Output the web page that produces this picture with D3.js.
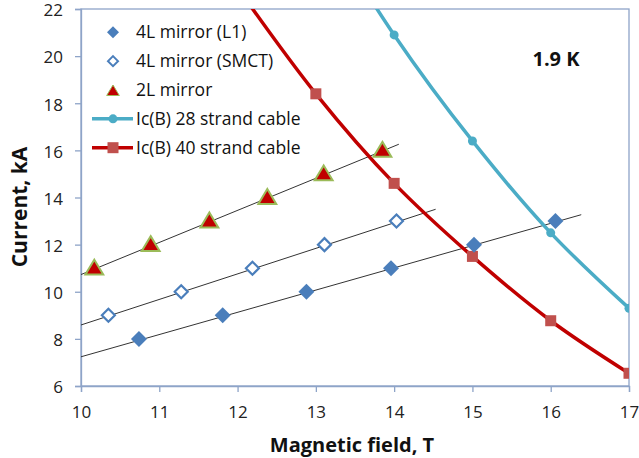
<!DOCTYPE html>
<html>
<head>
<meta charset="utf-8">
<script src="https://cdn.jsdelivr.net/npm/d3@7"></script>
<style>
  html, body { margin: 0; padding: 0; background: #fff; }
  svg { display: block; font-family: "Open Sans", "Noto Sans", sans-serif; }
</style>
</head>
<body>
<svg id="chart" width="639" height="458"></svg>
<script>
// ---- data ----
const xTicks = [10, 11, 12, 13, 14, 15, 16, 17];
const yTicks = [6, 8, 10, 12, 14, 16, 18, 20, 22];

const l1B = [10.74, 11.81, 12.88, 13.96, 15.02, 16.06];
const l1I = [8, 9, 10, 11, 12, 13];
const l1Fit = [[10, 7.24], [16.39, 13.27]];

const smctB = [10.35, 11.28, 12.19, 13.11, 14.03];
const smctI = [9, 10, 11, 12, 13];
const smctFit = [[10, 8.59], [14.53, 13.50]];

const twoLB = [10.17, 10.89, 11.64, 12.38, 13.10, 13.85];
const twoLI = [11, 12, 13, 14, 15, 16];
const twoLFit = [[10, 10.73], [14.06, 16.26]];

const c28B = [13, 14, 15, 16, 17];
const c28I = [26.2, 20.9, 16.4, 12.5, 9.3];

const c40B = [12, 13, 14, 15, 16, 17];
const c40I = [22.9, 18.4, 14.6, 11.5, 8.77, 6.54];

const legendLabels = ["4L mirror (L1)", "4L mirror (SMCT)", "2L mirror", "Ic(B) 28 strand cable", "Ic(B) 40 strand cable"];

// ---- layout ----
const svg = d3.select("#chart");
const L = 81, R = 629, T = 9, B = 386;
const x = d3.scaleLinear().domain([10, 17]).range([L, R]);
const y = d3.scaleLinear().domain([6, 22]).range([B, T]);

const axisColor = "#8ea4c8";
const blue = "#4a7ebb";
const cyan = "#4bacc6";
const darkRed = "#c00000";
const sqRed = "#c0504d";
const triStroke = "#9bbb59";

svg.append("defs").append("clipPath").attr("id", "clip")
  .append("rect").attr("x", L).attr("y", T).attr("width", R - L).attr("height", B - T);

// frame
svg.append("rect").attr("x", L).attr("y", T).attr("width", R - L).attr("height", B - T)
  .attr("fill", "none").attr("stroke", axisColor).attr("stroke-width", 1.3);

// axes
const xAxis = svg.append("g").attr("transform", `translate(0,${B})`)
  .call(d3.axisBottom(x).tickValues(xTicks).tickSize(6).tickPadding(14).tickFormat(d3.format("d")));
const yAxis = svg.append("g").attr("transform", `translate(${L},0)`)
  .call(d3.axisLeft(y).tickValues(yTicks).tickSize(6).tickPadding(12).tickFormat(d3.format("d")));
[xAxis, yAxis].forEach(g => {
  g.select(".domain").attr("stroke", axisColor).attr("stroke-width", 1.3);
  g.selectAll(".tick line").attr("stroke", axisColor).attr("stroke-width", 1.3);
  g.selectAll(".tick text").attr("fill", "#222").style("font-size", "17px")
    .style("font-family", "'Open Sans', sans-serif");
});
yAxis.selectAll(".tick text").attr("dy", "0.4em");

// axis titles
svg.append("text").attr("x", 352).attr("y", 452).attr("text-anchor", "middle")
  .style("font-size", "20px").style("font-weight", "bold").attr("fill", "#111")
  .text("Magnetic field, T");
svg.append("text").attr("transform", "translate(27,207) rotate(-90)").attr("text-anchor", "middle")
  .style("font-size", "21px").style("font-weight", "bold").attr("fill", "#111")
  .text("Current, kA");

const plot = svg.append("g").attr("clip-path", "url(#clip)");

// trend lines
const fitLine = d3.line().x(d => x(d[0])).y(d => y(d[1]));
[l1Fit, smctFit, twoLFit].forEach(f => {
  plot.append("path").attr("d", fitLine(f)).attr("fill", "none")
    .attr("stroke", "#333").attr("stroke-width", 1);
});

// curves
const curve = d3.line().x(d => x(d[0])).y(d => y(d[1])).curve(d3.curveCatmullRom.alpha(0.5));
const c28 = c28B.map((b, i) => [b, c28I[i]]);
const c40 = c40B.map((b, i) => [b, c40I[i]]);
plot.append("path").attr("d", curve(c40)).attr("fill", "none").attr("stroke", darkRed).attr("stroke-width", 3.5);
plot.append("path").attr("d", curve(c28)).attr("fill", "none").attr("stroke", cyan).attr("stroke-width", 3.5);

// markers
const diamond = s => `M0,${-s}L${s},0L0,${s}L${-s},0Z`;
const triangle = s => `M0,${-s}L${s * 1.05},${s * 0.75}L${-s * 1.05},${s * 0.75}Z`;

plot.selectAll(".c40m").data(c40).enter().append("rect")
  .attr("x", d => x(d[0]) - 5.5).attr("y", d => y(d[1]) - 5.5)
  .attr("width", 11).attr("height", 11).attr("fill", sqRed);
plot.selectAll(".c28m").data(c28).enter().append("circle")
  .attr("cx", d => x(d[0])).attr("cy", d => y(d[1])).attr("r", 4.5).attr("fill", cyan);

plot.selectAll(".l1").data(l1B).enter().append("path")
  .attr("transform", (d, i) => `translate(${x(d)},${y(l1I[i])})`)
  .attr("d", diamond(8)).attr("fill", blue);
plot.selectAll(".smct").data(smctB).enter().append("path")
  .attr("transform", (d, i) => `translate(${x(d)},${y(smctI[i])})`)
  .attr("d", diamond(6.5)).attr("fill", "#fff").attr("stroke", blue).attr("stroke-width", 2.2);
plot.selectAll(".tl").data(twoLB).enter().append("path")
  .attr("transform", (d, i) => `translate(${x(d)},${y(twoLI[i])})`)
  .attr("d", triangle(8.5)).attr("fill", darkRed).attr("stroke", triStroke).attr("stroke-width", 2);

// 1.9 K label
svg.append("text").attr("x", 556).attr("y", 65.5).attr("text-anchor", "middle")
  .style("font-size", "20px").style("font-weight", "bold").attr("fill", "#111").text("1.9 K");

// legend
const lg = svg.append("g");
const ly0 = 32.3, ldy = 28.85, mx = 113, tx = 136;
legendLabels.forEach((lab, i) => {
  const yy = ly0 + i * ldy;
  const g = lg.append("g").attr("transform", `translate(0,${yy})`);
  if (i === 0) g.append("path").attr("transform", `translate(${mx},0)`).attr("d", diamond(6)).attr("fill", blue);
  if (i === 1) g.append("path").attr("transform", `translate(${mx},0)`).attr("d", diamond(5)).attr("fill", "#fff").attr("stroke", blue).attr("stroke-width", 2);
  if (i === 2) g.append("path").attr("transform", `translate(${mx},1)`).attr("d", triangle(6)).attr("fill", darkRed).attr("stroke", triStroke).attr("stroke-width", 1);
  if (i === 3) {
    g.append("line").attr("x1", 92).attr("x2", 133).attr("stroke", cyan).attr("stroke-width", 3.5);
    g.append("circle").attr("cx", mx).attr("r", 4.5).attr("fill", cyan);
  }
  if (i === 4) {
    g.append("line").attr("x1", 92).attr("x2", 133).attr("stroke", darkRed).attr("stroke-width", 3.5);
    g.append("rect").attr("x", mx - 5.5).attr("y", -5.5).attr("width", 11).attr("height", 11).attr("fill", sqRed);
  }
  g.append("text").attr("x", tx).attr("y", 0).attr("dy", "0.35em")
    .style("font-size", "17.5px").attr("fill", "#111").text(lab);
});
</script>
</body>
</html>
